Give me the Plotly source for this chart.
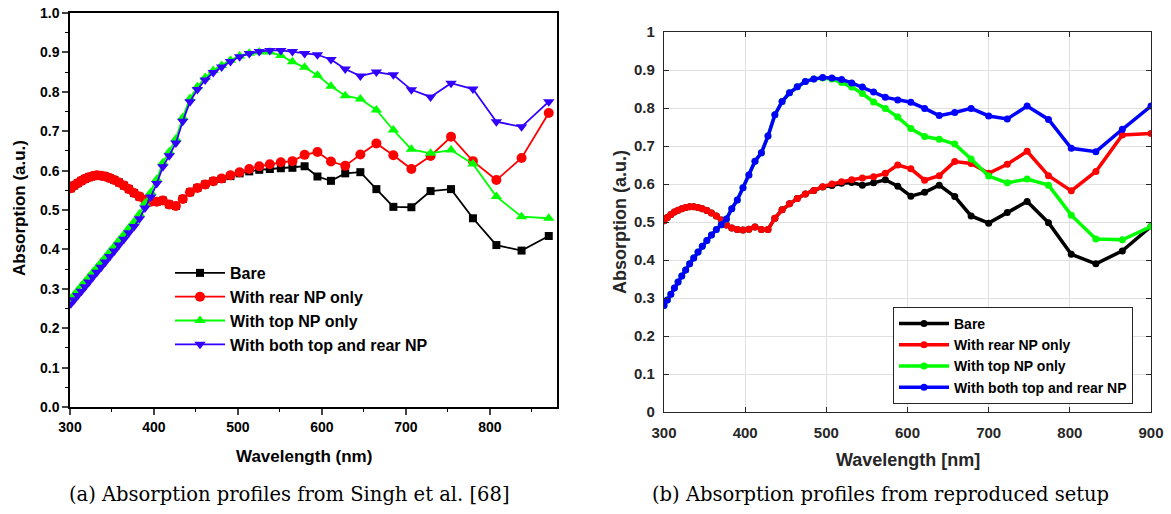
import plotly.graph_objects as go

# ---------------- (a) Singh et al. ----------------
wl_a = [301, 305, 309.2, 313.5, 317.9, 322.5, 327.2, 332, 337, 342.1, 347.3, 352.8, 358.4, 364.2,
        370.1, 376.3, 382.7, 389.3, 396.2, 403.3, 410.6, 418.2, 426.1, 434.3, 442.9, 451.7, 461,
        470.6, 480.6, 491.1, 502, 513.5, 525.4, 538, 551.1, 564.9, 579.4, 594.7, 610.8, 627.8,
        645.8, 664.9, 685.1, 706.6, 729.4, 753.8, 779.9, 807.8, 837.8, 870.2]

rear_a = [0.555, 0.562, 0.568, 0.574, 0.579, 0.583, 0.586, 0.588, 0.587, 0.585, 0.581, 0.576,
          0.570, 0.562, 0.553, 0.543, 0.534, 0.526, 0.521, 0.521, 0.524, 0.514, 0.510, 0.528,
          0.545, 0.556, 0.565, 0.573, 0.580, 0.588, 0.596, 0.604, 0.611, 0.616, 0.621, 0.624,
          0.640, 0.647, 0.623, 0.612, 0.641, 0.669, 0.639, 0.604, 0.637, 0.686, 0.624, 0.576,
          0.632, 0.746]

bare_a = [0.555, 0.562, 0.568, 0.574, 0.579, 0.583, 0.586, 0.588, 0.587, 0.585, 0.581, 0.576,
          0.570, 0.562, 0.553, 0.543, 0.534, 0.526, 0.521, 0.521, 0.524, 0.514, 0.510, 0.528,
          0.545, 0.556, 0.565, 0.573, 0.579, 0.586, 0.593, 0.598, 0.602, 0.604, 0.606, 0.607,
          0.611, 0.585, 0.574, 0.593, 0.596, 0.553, 0.508, 0.507, 0.548, 0.553, 0.479, 0.411,
          0.397, 0.434]

top_a = [0.275, 0.285, 0.296, 0.307, 0.318, 0.330, 0.342, 0.354, 0.367, 0.380, 0.394, 0.408,
         0.423, 0.438, 0.454, 0.470, 0.490, 0.517, 0.545, 0.578, 0.620, 0.648, 0.680, 0.735,
         0.783, 0.813, 0.836, 0.854, 0.867, 0.880, 0.891, 0.898, 0.901, 0.901, 0.892, 0.876,
         0.862, 0.842, 0.814, 0.790, 0.782, 0.754, 0.703, 0.654, 0.644, 0.652, 0.617, 0.534,
         0.483, 0.479]

both_a = [0.262, 0.272, 0.283, 0.294, 0.305, 0.317, 0.330, 0.342, 0.355, 0.368, 0.382, 0.396,
          0.411, 0.426, 0.442, 0.458, 0.478, 0.505, 0.533, 0.567, 0.610, 0.638, 0.670, 0.725,
          0.775, 0.806, 0.830, 0.849, 0.863, 0.877, 0.889, 0.897, 0.902, 0.905, 0.905, 0.902,
          0.897, 0.894, 0.882, 0.858, 0.840, 0.850, 0.843, 0.805, 0.787, 0.822, 0.807, 0.724,
          0.711, 0.775]

# ---------------- (b) reproduced setup ----------------
wl_b = [300, 304.1, 308.4, 312.8, 317.3, 321.9, 326.7, 331.6, 336.6, 341.9, 347.2, 352.8, 358.5,
        364.5, 370.6, 376.9, 383.5, 390.3, 397.3, 404.6, 412.1, 420.0, 428.1, 436.6, 445.5, 454.6,
        464.2, 474.2, 484.6, 495.5, 506.9, 518.8, 531.3, 544.4, 558.2, 572.7, 588.0, 604.1, 621.1,
        639.1, 658.2, 678.4, 700.0, 722.9, 747.4, 773.7, 801.8, 832.1, 864.7, 900.0]

rear_b = [0.503, 0.512, 0.520, 0.526, 0.531, 0.535, 0.538, 0.540, 0.540, 0.538, 0.535, 0.530,
          0.524, 0.516, 0.505, 0.492, 0.484, 0.480, 0.479, 0.481, 0.487, 0.480, 0.480, 0.510,
          0.532, 0.548, 0.562, 0.574, 0.583, 0.593, 0.600, 0.606, 0.611, 0.616, 0.619, 0.628,
          0.650, 0.640, 0.610, 0.622, 0.659, 0.654, 0.628, 0.652, 0.686, 0.622, 0.582, 0.633,
          0.729, 0.733]

bare_b = [0.503, 0.512, 0.520, 0.526, 0.531, 0.535, 0.538, 0.540, 0.540, 0.538, 0.535, 0.530,
          0.524, 0.516, 0.505, 0.492, 0.484, 0.480, 0.479, 0.481, 0.487, 0.480, 0.480, 0.510,
          0.532, 0.548, 0.562, 0.574, 0.583, 0.592, 0.596, 0.602, 0.604, 0.597, 0.603, 0.611,
          0.594, 0.568, 0.578, 0.597, 0.567, 0.516, 0.497, 0.525, 0.554, 0.498, 0.415, 0.390,
          0.424, 0.488]

top_b = [0.280, 0.295, 0.310, 0.326, 0.342, 0.358, 0.374, 0.390, 0.405, 0.421, 0.436, 0.451,
         0.466, 0.480, 0.493, 0.508, 0.535, 0.558, 0.590, 0.624, 0.660, 0.682, 0.726, 0.782,
         0.817, 0.840, 0.856, 0.870, 0.876, 0.879, 0.876, 0.867, 0.855, 0.838, 0.816, 0.799,
         0.776, 0.746, 0.725, 0.718, 0.705, 0.666, 0.621, 0.603, 0.613, 0.597, 0.518, 0.455,
         0.453, 0.488]

both_b = [0.280, 0.295, 0.310, 0.326, 0.342, 0.358, 0.374, 0.390, 0.405, 0.421, 0.436, 0.451,
          0.466, 0.480, 0.493, 0.508, 0.535, 0.558, 0.590, 0.624, 0.660, 0.682, 0.726, 0.782,
          0.817, 0.840, 0.856, 0.870, 0.876, 0.880, 0.879, 0.875, 0.866, 0.855, 0.842, 0.828,
          0.821, 0.815, 0.799, 0.780, 0.788, 0.799, 0.779, 0.771, 0.805, 0.770, 0.694, 0.685,
          0.744, 0.805]

names = ["Bare", "With rear NP only", "With top NP only", "With both top and rear NP"]
colors_a = ["#000000", "#ff0000", "#00ff00", "#3300ff"]
symbols_a = ["square", "circle", "triangle-up", "triangle-down"]
sizes_a = [8, 10, 10, 10]
colors_b = ["#000000", "#ff0000", "#00ff00", "#0000ff"]

W, H = 1171, 514

fig = go.Figure()

for name, ys, col, sym, sz in zip(names, [bare_a, rear_a, top_a, both_a], colors_a, symbols_a, sizes_a):
    fig.add_trace(go.Scatter(
        x=wl_a, y=ys, name=name, mode="lines+markers",
        line=dict(color=col, width=1.8),
        marker=dict(color=col, symbol=sym, size=sz),
        xaxis="x", yaxis="y", legend="legend"))

for name, ys, col in zip(names, [bare_b, rear_b, top_b, both_b], colors_b):
    fig.add_trace(go.Scatter(
        x=wl_b, y=ys, name=name, mode="lines+markers",
        line=dict(color=col, width=3.5),
        marker=dict(color=col, symbol="circle", size=7),
        xaxis="x2", yaxis="y2", legend="legend2"))

def px_x(p):
    return p / W

def px_y(p):
    return 1 - p / H

tickfont_a = dict(family="Liberation Sans, Arial, sans-serif", size=14, color="#000000", weight="bold")
tickfont_b = dict(family="Liberation Sans, Arial, sans-serif", size=15, color="#262626", weight="bold")

fig.update_layout(
    width=W, height=H,
    margin=dict(l=0, r=0, t=0, b=0),
    paper_bgcolor="white", plot_bgcolor="white",
    xaxis=dict(domain=[px_x(70), px_x(557)], range=[300, 880], anchor="y",
               tickmode="linear", tick0=300, dtick=100, ticks="outside", ticklen=6, tickwidth=1.5,
               minor=dict(dtick=50, ticks="outside", ticklen=3, tickwidth=1.2, tickcolor="#000"),
               showline=True, linecolor="#000", linewidth=1.5, mirror=True,
               showgrid=False, zeroline=False, tickfont=tickfont_a, automargin=False),
    yaxis=dict(domain=[px_y(407), px_y(13)], range=[0, 1], anchor="x",
               tickmode="linear", tick0=0, dtick=0.1, tickformat=".1f", ticks="outside", ticklen=6,
               tickwidth=1.5,
               minor=dict(dtick=0.05, ticks="outside", ticklen=3, tickwidth=1.2, tickcolor="#000"),
               showline=True, linecolor="#000", linewidth=1.5, mirror=True,
               showgrid=False, zeroline=False, tickfont=tickfont_a, automargin=False),
    xaxis2=dict(domain=[px_x(664), px_x(1151)], range=[300, 900], anchor="y2",
                tickmode="linear", tick0=300, dtick=100, ticks="inside", ticklen=5, tickwidth=1,
                tickcolor="#262626", ticklabelstandoff=7,
                showline=True, linecolor="#262626", linewidth=1.2, mirror="allticks",
                showgrid=True, gridcolor="#e0e0e0", gridwidth=1.3, zeroline=False,
                tickfont=tickfont_b, automargin=False),
    yaxis2=dict(domain=[px_y(412), px_y(32)], range=[0, 1], anchor="x2",
                tickmode="linear", tick0=0, dtick=0.1, ticks="inside", ticklen=5, tickwidth=1,
                tickcolor="#262626", ticklabelstandoff=5,
                showline=True, linecolor="#262626", linewidth=1.2, mirror="allticks",
                showgrid=True, gridcolor="#e0e0e0", gridwidth=1.3, zeroline=False,
                tickfont=tickfont_b, automargin=False),
    legend=dict(x=px_x(170), y=px_y(256), xanchor="left", yanchor="top",
                bgcolor="rgba(0,0,0,0)", borderwidth=0, tracegroupgap=0, itemwidth=50,
                font=dict(family="Liberation Sans, Arial, sans-serif", size=16, color="#000",
                          weight="bold")),
    legend2=dict(x=px_x(893), y=px_y(307), xanchor="left", yanchor="top",
                 bgcolor="white", bordercolor="#262626", borderwidth=1, tracegroupgap=0,
                 itemwidth=50,
                 font=dict(family="Liberation Sans, Arial, sans-serif", size=14, color="#000",
                           weight="bold")),
    showlegend=True,
)

ann_font_a = dict(family="Liberation Sans, Arial, sans-serif", size=17, color="#000", weight="bold")
ann_font_b = dict(family="Liberation Sans, Arial, sans-serif", size=18, color="#262626", weight="bold")
cap_font = dict(family="DejaVu Serif, Liberation Serif, serif", size=19.5, color="#000")

fig.add_annotation(text="Wavelength (nm)", x=px_x(304), y=px_y(456), xref="paper", yref="paper",
                   showarrow=False, font=ann_font_a, xanchor="center", yanchor="middle")
fig.add_annotation(text="Absorption (a.u.)", x=px_x(19), y=px_y(208), xref="paper", yref="paper",
                   showarrow=False, font=ann_font_a, textangle=-90, xanchor="center", yanchor="middle")
fig.add_annotation(text="Wavelength [nm]", x=px_x(908), y=px_y(460), xref="paper", yref="paper",
                   showarrow=False, font=ann_font_b, xanchor="center", yanchor="middle")
fig.add_annotation(text="Absorption (a.u.)", x=px_x(620), y=px_y(222), xref="paper", yref="paper",
                   showarrow=False, font=ann_font_b, textangle=-90, xanchor="center", yanchor="middle")
fig.add_annotation(text="(a) Absorption profiles from Singh et al. [68]", x=px_x(289), y=px_y(494),
                   xref="paper", yref="paper", showarrow=False, font=cap_font,
                   xanchor="center", yanchor="middle")
fig.add_annotation(text="(b) Absorption profiles from reproduced setup", x=px_x(880), y=px_y(494),
                   xref="paper", yref="paper", showarrow=False, font=cap_font,
                   xanchor="center", yanchor="middle")

fig.write_html("out.html")
